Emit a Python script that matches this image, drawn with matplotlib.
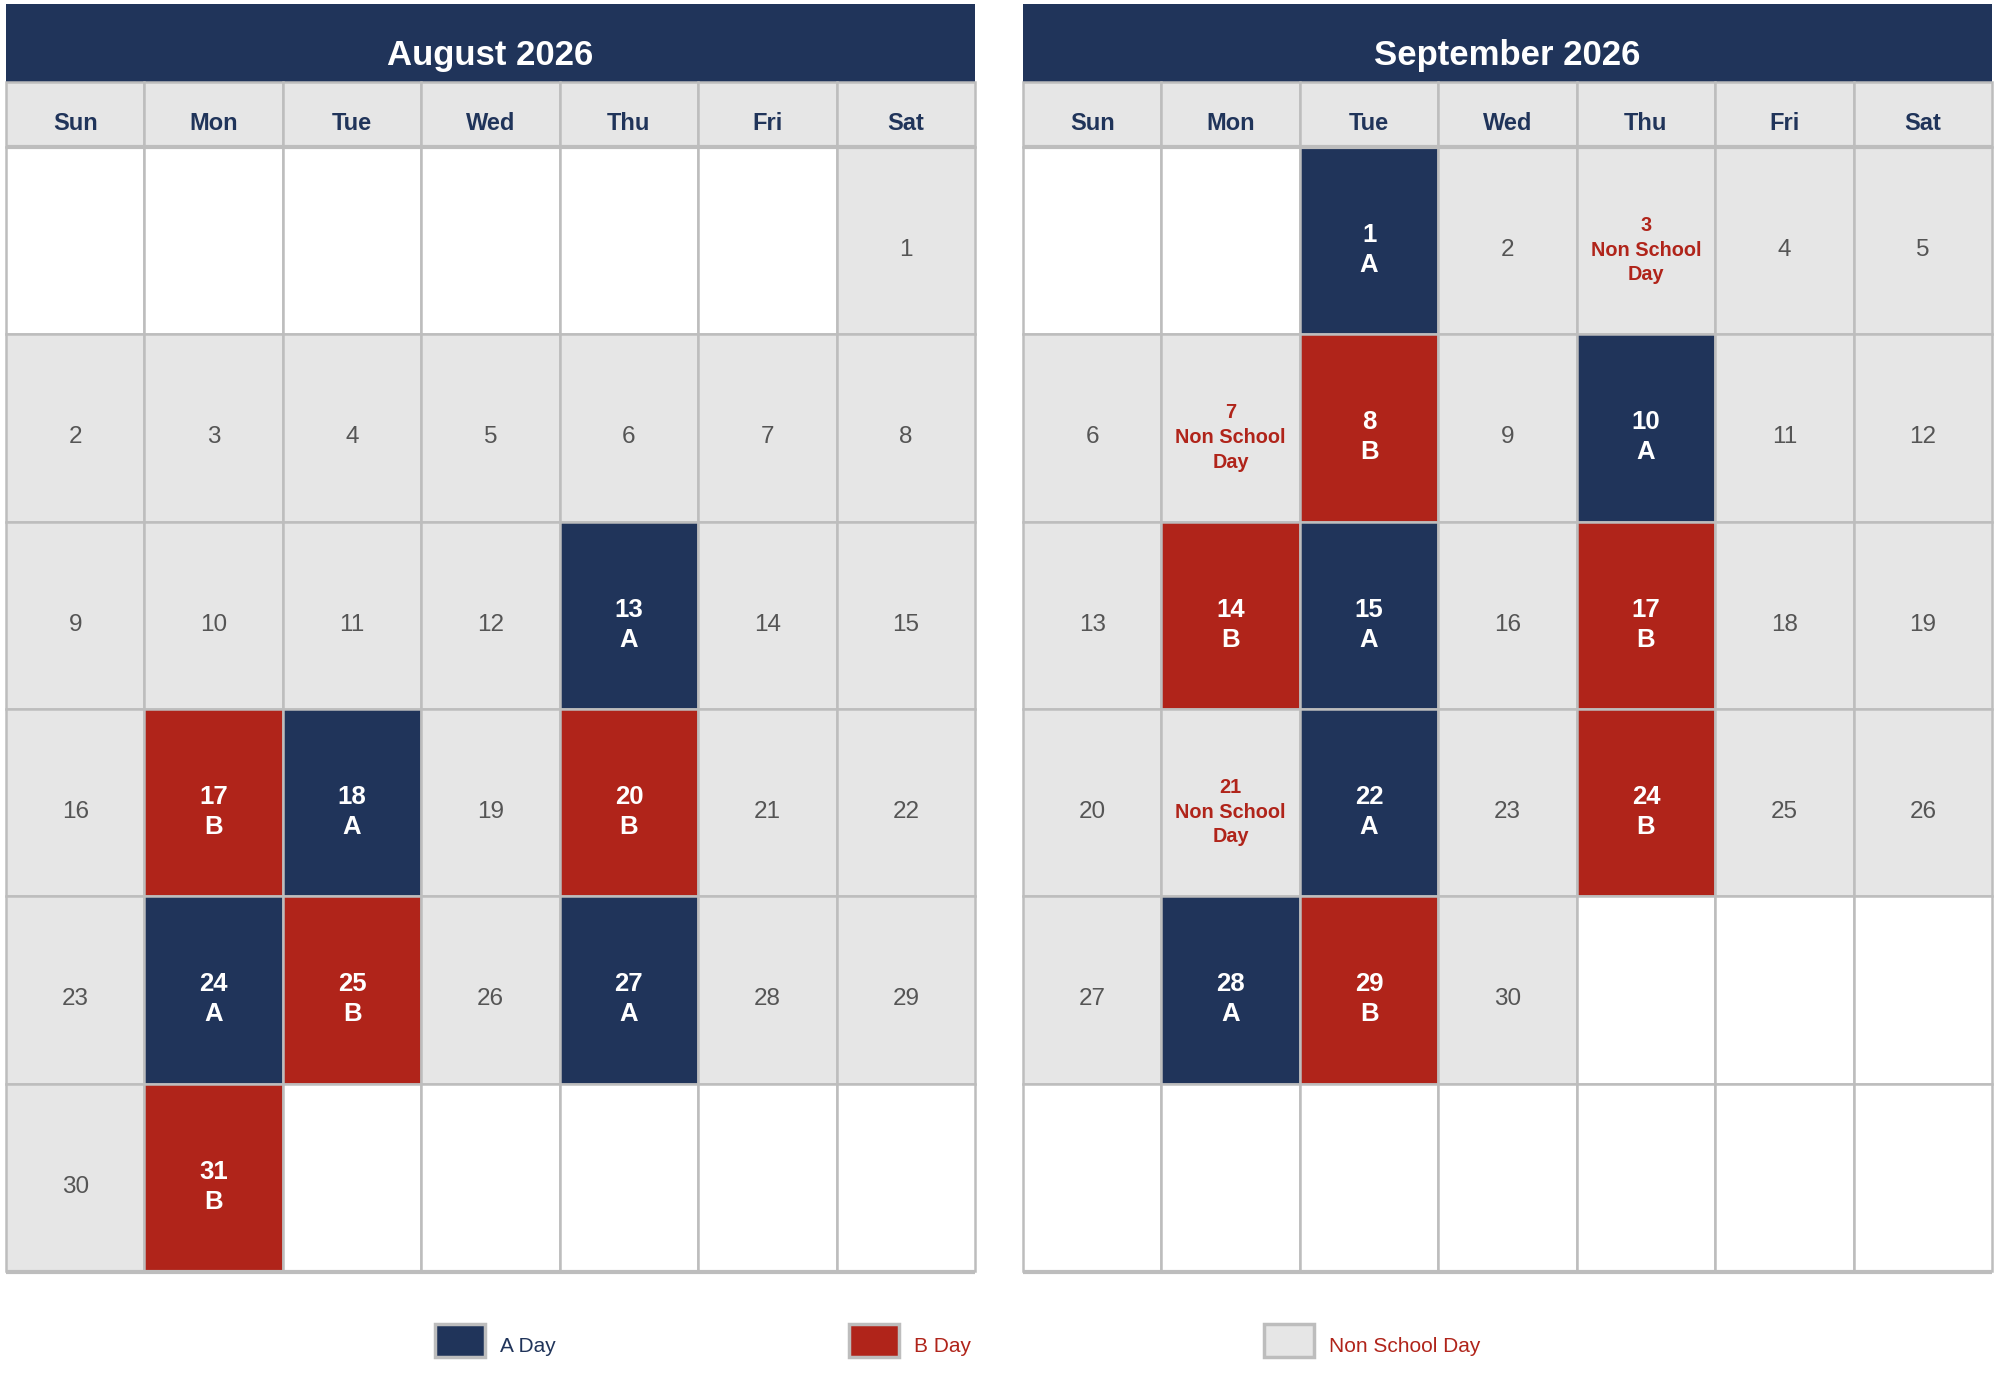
import calendar
import matplotlib
matplotlib.use("Agg")
import matplotlib.pyplot as plt
from matplotlib.patches import Rectangle

plt.rcParams['font.family'] = ['Liberation Sans', 'DejaVu Sans']

# ---------------- data ----------------
YEAR = 2026
months = [8, 9]
month_titles = ["August 2026", "September 2026"]
weekday_labels = ["Sun", "Mon", "Tue", "Wed", "Thu", "Fri", "Sat"]
aug_a_days = [13, 18, 24, 27]
aug_b_days = [17, 20, 25, 31]
aug_non_school_marked = []
sep_a_days = [1, 10, 15, 22, 28]
sep_b_days = [8, 14, 17, 24, 29]
sep_non_school_marked = [3, 7, 21]
legend_labels = ["A Day", "B Day", "Non School Day"]

a_days = {8: aug_a_days, 9: sep_a_days}
b_days = {8: aug_b_days, 9: sep_b_days}
non_school_marked = {8: aug_non_school_marked, 9: sep_non_school_marked}

# ---------------- style ----------------
NAVY = "#20345a"
RED = "#b0241a"
GRAY = "#e6e6e6"
BORDER = "#bdbdbd"
NUM = "#555555"

fig = plt.figure(figsize=(20.1, 13.9), dpi=100)
ax = fig.add_axes([0, 0, 1, 1])
ax.set_xlim(0, 2010)
ax.set_ylim(1390, 0)
ax.axis('off')

panel_left = [6, 1023]
panel_w = 969
col_w = panel_w / 7
title_top = 4
title_h = 78
head_h = 65
row_h = 187.3
n_rows = 6
LW = 1.8

for m, title, left in zip(months, month_titles, panel_left):
    ax.add_patch(Rectangle((left, title_top), panel_w, title_h,
                           facecolor=NAVY, edgecolor='none', zorder=1))
    ax.text(left + panel_w / 2, title_top + title_h / 2 + 12, title,
            ha='center', va='center', color='white', fontsize=25,
            fontweight='bold', zorder=5)
    head_top = title_top + title_h
    for i, lab in enumerate(weekday_labels):
        x = left + i * col_w
        ax.add_patch(Rectangle((x, head_top), col_w, head_h, facecolor=GRAY,
                               edgecolor=BORDER, lw=LW, zorder=2))
        ax.text(x + col_w / 2, head_top + head_h / 2 + 8.5, lab, ha='center',
                va='center', color=NAVY, fontsize=17, fontweight='bold', zorder=5)
    grid_top = head_top + head_h
    ax.plot([left, left + panel_w], [grid_top, grid_top], color=BORDER,
            lw=3, zorder=4, solid_capstyle='butt')

    first = (calendar.weekday(YEAR, m, 1) + 1) % 7  # Sunday = 0
    ndays = calendar.monthrange(YEAR, m)[1]
    for cell in range(n_rows * 7):
        r, c = divmod(cell, 7)
        d = cell - first + 1
        x = left + c * col_w
        y = grid_top + r * row_h
        cx, cy = x + col_w / 2, y + row_h / 2 + 9.5
        if 1 <= d <= ndays:
            if d in a_days[m]:
                fc = NAVY
                txt, col, fs, fw, ls = f"{d}\nA", 'white', 18.5, 'bold', 1.32
            elif d in b_days[m]:
                fc = RED
                txt, col, fs, fw, ls = f"{d}\nB", 'white', 18.5, 'bold', 1.32
            elif d in non_school_marked[m]:
                fc = GRAY
                txt, col, fs, fw, ls = f"{d}\nNon School\nDay", RED, 14.3, 'bold', 1.38
            else:
                fc = GRAY
                txt, col, fs, fw, ls = f"{d}", NUM, 17.5, 'normal', 1.2
            ax.add_patch(Rectangle((x, y), col_w, row_h, facecolor=fc,
                                   edgecolor=BORDER, lw=LW, zorder=2))
            ax.text(cx, cy, txt, ha='center', va='center', color=col,
                    fontsize=fs, fontweight=fw, linespacing=ls, zorder=5)
        else:
            ax.add_patch(Rectangle((x, y), col_w, row_h, facecolor='white',
                                   edgecolor=BORDER, lw=LW, zorder=2))
    bottom = grid_top + n_rows * row_h
    ax.plot([left, left + panel_w], [bottom + 1, bottom + 1], color=BORDER,
            lw=3, zorder=4, solid_capstyle='butt')

# ---------------- legend ----------------
legend_fc = [NAVY, RED, GRAY]
legend_tc = [NAVY, RED, RED]
legend_x = [435, 849, 1264]
for lab, fc, tc, lx in zip(legend_labels, legend_fc, legend_tc, legend_x):
    ax.add_patch(Rectangle((lx, 1324), 50, 33, facecolor=fc,
                           edgecolor=BORDER, lw=2.5, zorder=2))
    ax.text(lx + 65, 1346, lab, ha='left', va='center', color=tc,
            fontsize=15, zorder=5)

fig.savefig("out.png", dpi=100, facecolor='white')
